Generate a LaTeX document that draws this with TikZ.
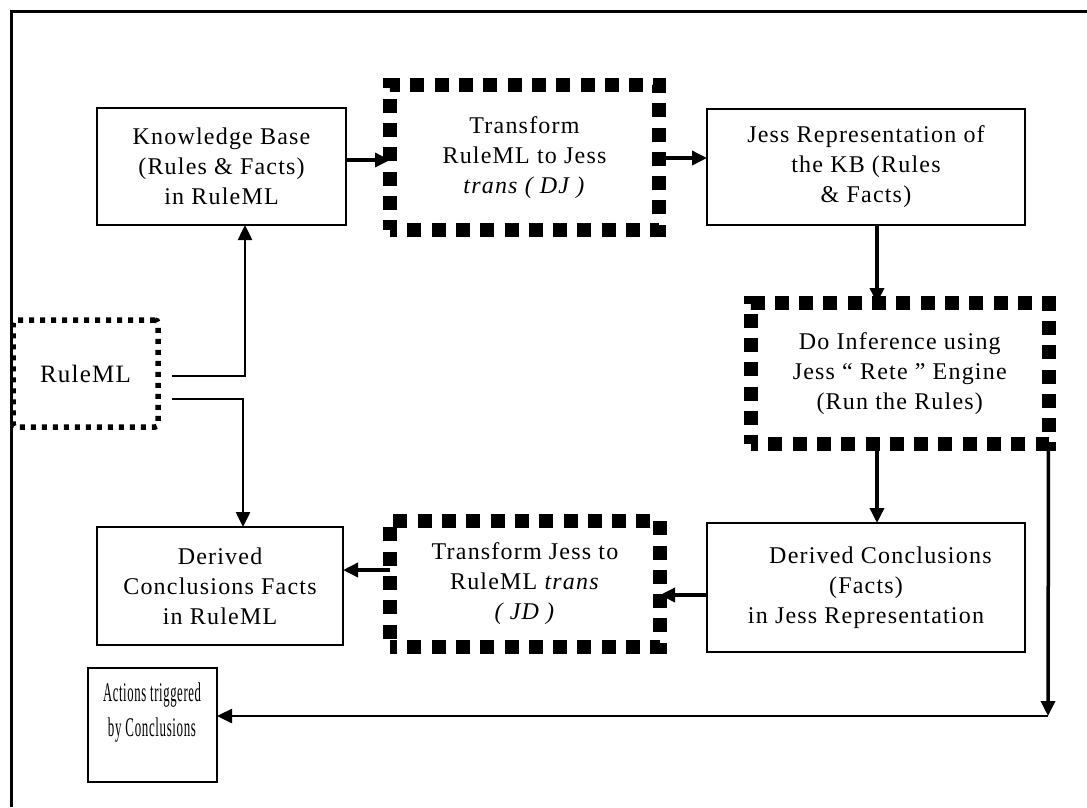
\documentclass[tikz,border=0pt]{standalone}
\usepackage{fontspec}
\setmainfont{Liberation Serif}[LetterSpace=5]
\usepackage{graphicx}
\usetikzlibrary{arrows.meta,calc}
\begin{document}
\begin{tikzpicture}[x=1pt,y=-1pt,
  txt/.style={align=center, font=\fontsize{24}{30}\selectfont},
  box/.style={txt, draw, line width=2.2pt, inner sep=0pt, outer sep=0pt},
  bigdot/.style={txt, draw, line width=14pt, dash pattern=on 14pt off 10.3pt, dash phase=7pt, inner sep=0pt, outer sep=0pt},
  smalldot/.style={txt, draw, line width=5.5pt, dash pattern=on 5pt off 6pt, rounded corners=3pt, inner sep=0pt, outer sep=0pt},
  arr/.style={line width=3.5pt, -{Triangle[length=15pt,width=14pt]}},
  thinarr/.style={line width=2.5pt, -{Triangle[length=15pt,width=14pt]}}]
\useasboundingbox (0,0) rectangle (1087,807);
\draw[line width=3pt] (11,807) -- (11,11) -- (1087,11);

\node[box, minimum width=249pt, minimum height=117pt] (kb) at (221.5,166.5)
  {Knowledge Base\\(Rules \& Facts)\\in RuleML};
\node[bigdot, minimum width=269pt, minimum height=145.5pt] (dj) at (524.5,157.25)
  {Transform\\RuleML to Jess\\\textit{trans ( DJ )}};
\node[box, minimum width=318pt, minimum height=116pt] (jess) at (866,167)
  {Jess Representation of\\the KB (Rules\\\& Facts)};
\node[smalldot, minimum width=145pt, minimum height=107pt, font=\fontsize{25}{30}\selectfont] (rml) at (85.5,373.5)
  {RuleML};
\node[bigdot, minimum width=297.5pt, minimum height=140.5pt] (inf) at (899.75,373.25)
  {Do Inference using\\Jess “ Rete ” Engine\\(Run the Rules)};
\node[box, minimum width=246pt, minimum height=118pt] (drml) at (220,586)
  {Derived\\Conclusions Facts\\in RuleML};
\node[bigdot, minimum width=270pt, minimum height=126.5pt] (jd) at (525,583.75)
  {Transform Jess to\\RuleML \textit{trans}\\\textit{( JD )}};
\node[box, minimum width=318pt, minimum height=129pt] (djess) at (866,587.5)
  {\hspace*{1.2em}Derived Conclusions\\(Facts)\\in Jess Representation};
\node[box, minimum width=129pt, minimum height=114pt] (act) at (152.5,725) {};
\node[txt, font=\fontsize{27}{35}\selectfont] (acttxt) at (152,712.5)
  {\scalebox{0.47}[1]{Actions triggered}\\\scalebox{0.48}[1]{by Conclusions}};

\coordinate (corner) at (1048,716);
\coordinate (a1) at ($(jess.south)+(11,0)$);
\coordinate (a2) at ($(djess.north)+(11,0)$);
\coordinate (b1) at ($(kb.east)+(0,-6.5)$);
\coordinate (b2) at ($(jess.west)+(0,-9)$);
\coordinate (b3) at ($(djess.west)+(0,7.5)$);
\coordinate (b4) at ($(drml.east)+(0,-16)$);

\draw[arr] (b1) -- (b1 -| dj.west);
\draw[arr] (b2 -| dj.east) -- (b2);
\draw[arr] (a1) -- (a1 |- inf.north);
\draw[thinarr] ($(rml.east)+(14,2.5)$) -| ($(kb.south)+(23.5,0)$);
\draw[thinarr] ($(rml.east)+(14,25.5)$) -| ($(drml.north)+(23,0)$);
\draw[arr] (a2 |- inf.south) -- (a2);
\draw[arr] (b3) -- (b3 -| jd.east);
\draw[arr] (b4 -| jd.west) -- (b4);
\draw[arr] (inf.south east) -- (corner);
\draw[thinarr] (corner) -- (corner -| act.east);
\end{tikzpicture}
\end{document}
